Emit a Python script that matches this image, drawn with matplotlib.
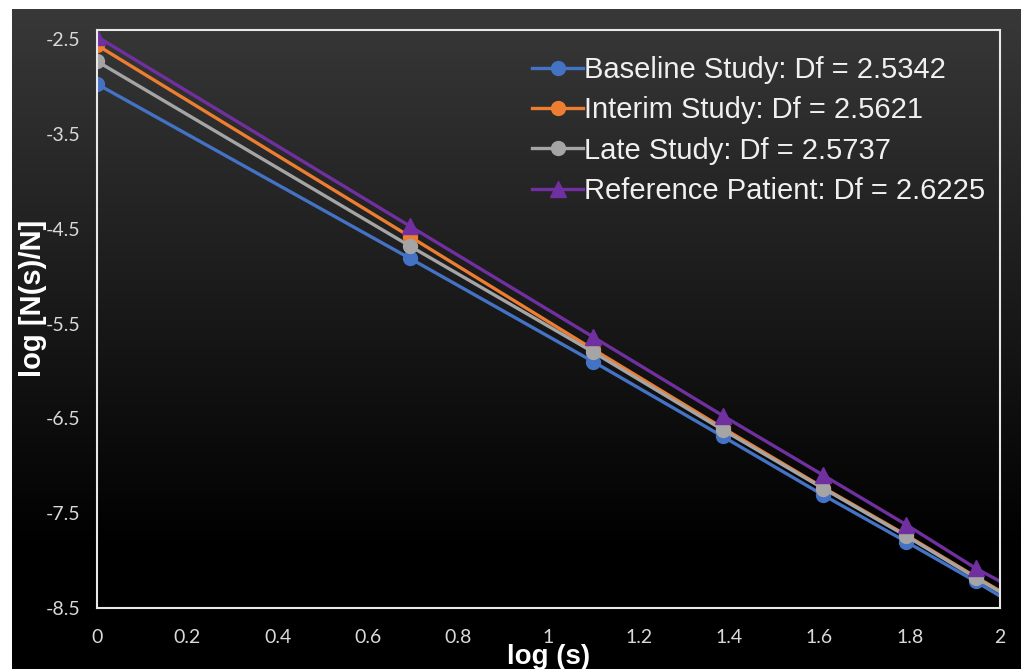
import numpy as np
import matplotlib
matplotlib.use('Agg')
import matplotlib.pyplot as plt

# log(s) for s = 1..8 (the last point lies past the axis edge)
log_s = [0.0, 0.693, 1.099, 1.386, 1.609, 1.792, 1.946, 2.079]

baseline = [-2.97, -4.81, -5.90, -6.69, -7.31, -7.80, -8.22, -8.60]
interim = [-2.56, -4.58, -5.77, -6.60, -7.23, -7.73, -8.17, -8.54]
late = [-2.73, -4.68, -5.80, -6.62, -7.24, -7.74, -8.18, -8.55]
reference = [-2.47, -4.47, -5.64, -6.47, -7.10, -7.62, -8.08, -8.42]

labels = ['Baseline Study: Df = 2.5342', 'Interim Study: Df = 2.5621',
          'Late Study: Df = 2.5737', 'Reference Patient: Df = 2.6225']
colors = ['#4472C4', '#ED7D31', '#A5A5A5', '#7030A0']
markers = ['o', 'o', 'o', '^']

y_ticks = [-2.5, -3.5, -4.5, -5.5, -6.5, -7.5, -8.5]
x_ticks = [0, 0.2, 0.4, 0.6, 0.8, 1, 1.2, 1.4, 1.6, 1.8, 2]

fig = plt.figure(figsize=(10.24, 6.69), dpi=100)
fig.patch.set_facecolor('white')

# dark gradient panel behind the chart
bg = fig.add_axes([12/1024, 0, (1021-12)/1024, (669-9)/669])
grad = np.linspace(0, 1, 256).reshape(-1, 1)
shade = np.clip(0.22 * (1 - grad / 0.82), 0, 1)
bg.imshow(np.dstack([shade, shade, shade]), aspect='auto', extent=[0, 1, 0, 1])
bg.set_axis_off()

ax = fig.add_axes([97/1024, 1 - 608/669, (1000-97)/1024, (608-30)/669])
ax.patch.set_alpha(0)

series = [baseline, interim, late, reference]
for vals, lab, c, m in zip(series, labels, colors, markers):
    ax.plot(log_s, vals, color=c, lw=2.4, marker=m, markersize=10 if m == 'o' else 11,
            label=lab, clip_on=True)

ax.set_xlim(0, 2)
ax.set_ylim(-8.5, -2.4)
ax.set_xticks(x_ticks)
ax.set_xticklabels([f'{t:g}' for t in x_ticks])
ax.set_yticks(y_ticks)
ax.set_yticklabels([f'{t:g}' for t in y_ticks])
ax.tick_params(length=0, colors='#d9d9d9', labelsize=14)
ax.tick_params(axis='y', pad=12)
ax.tick_params(axis='x', pad=15)
for lab in ax.get_xticklabels() + ax.get_yticklabels():
    lab.set_family('Lato')
for s in ['left', 'right', 'top', 'bottom']:
    ax.spines[s].set_color('#e8e8e8')
    ax.spines[s].set_linewidth(1.5)

ax.set_xlabel('log (s)', fontsize=20, fontweight='bold', color='white',
              family='Liberation Sans')
ax.set_ylabel('log [N(s)/N]', fontsize=21, fontweight='bold', color='white',
              family='Liberation Sans')
ax.xaxis.set_label_coords(0.5, -0.062)
ax.yaxis.set_label_coords(-0.055, 0.535)

leg = ax.legend(loc='upper right', bbox_to_anchor=(0.997, 0.975), frameon=False,
                handlelength=1.75, handletextpad=0.05, labelspacing=0.42,
                borderaxespad=0.0, prop={'family': 'Liberation Sans', 'size': 21})
for t in leg.get_texts():
    t.set_color('#f0f0f0')

plt.savefig('out.png', dpi=100)
